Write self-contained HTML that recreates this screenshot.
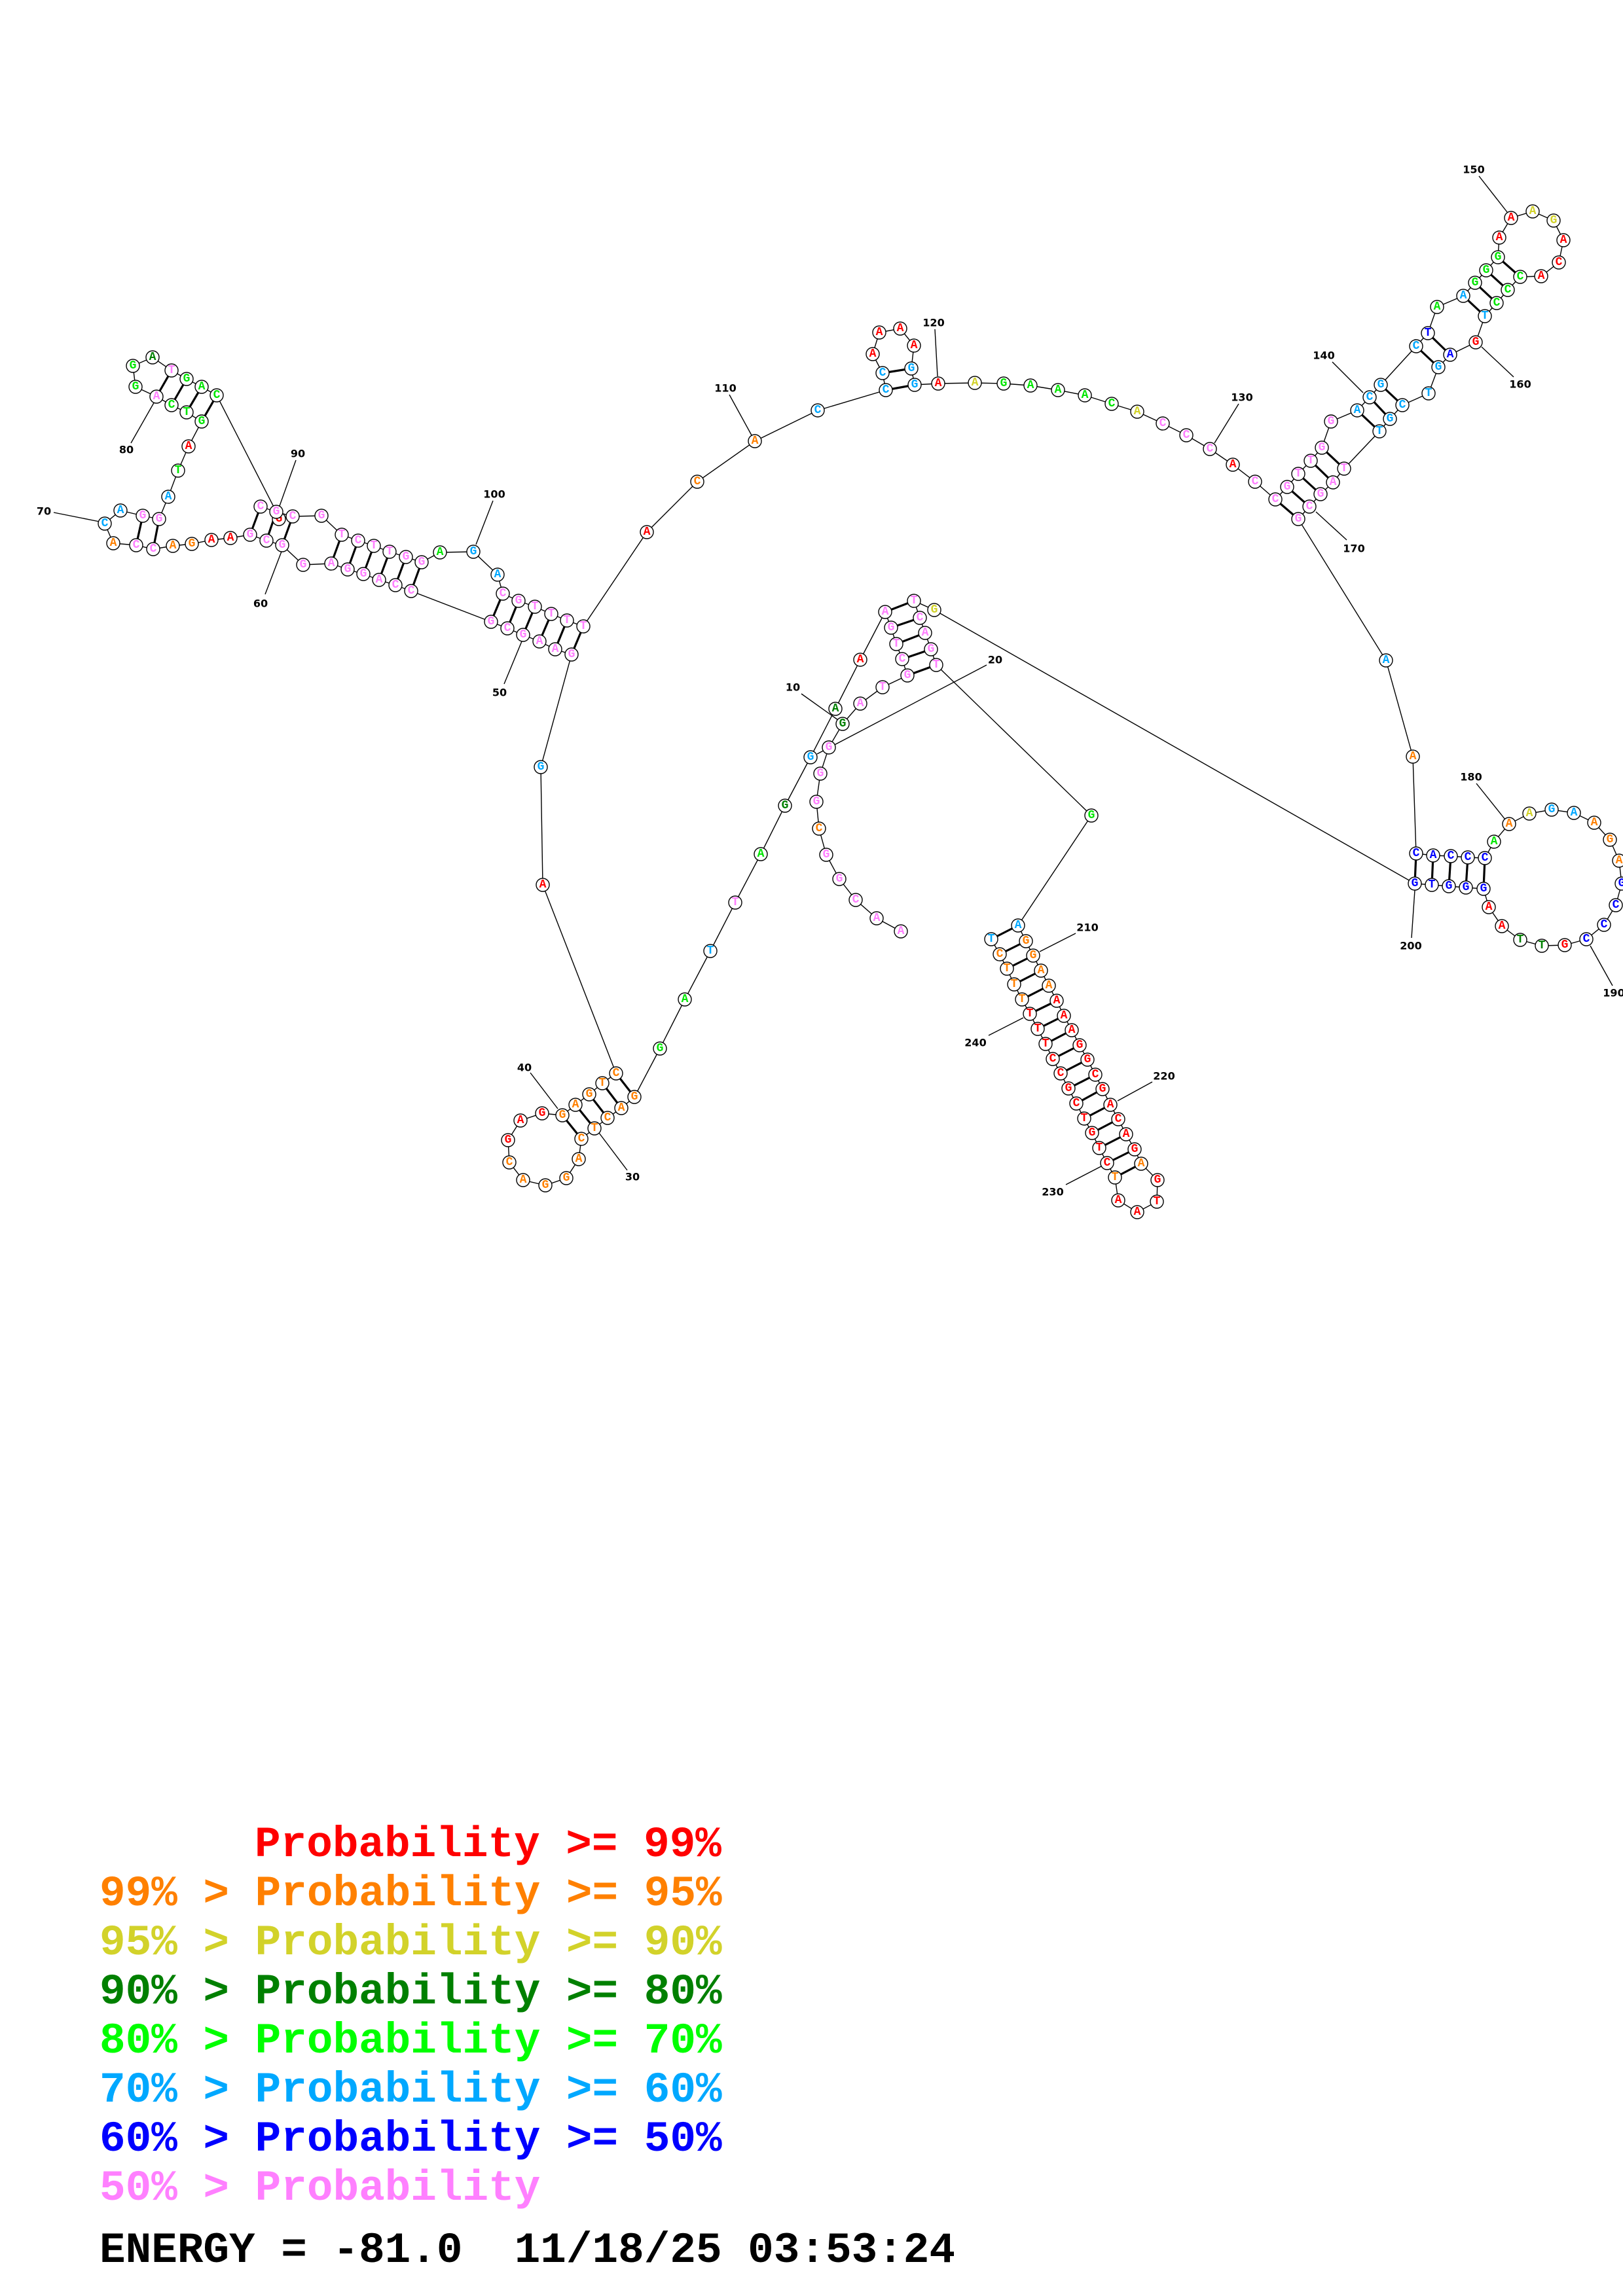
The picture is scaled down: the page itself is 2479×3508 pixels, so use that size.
<!DOCTYPE html>
<html><head><meta charset="utf-8"><style>
html,body{margin:0;padding:0;background:#fff}
svg{display:block}
.bb{fill:none;stroke:#000;stroke-width:1.4}
.pr{stroke:#000;stroke-width:3.2}
.ln{stroke:#000;stroke-width:1.4}
circle{fill:#fff;stroke:#000;stroke-width:1.4}
.n text{font-family:"Liberation Mono",monospace;font-weight:bold;font-size:18px;text-anchor:middle;dominant-baseline:central}
.lb{font-family:"DejaVu Sans","Liberation Sans",sans-serif;font-weight:bold;font-size:16px;text-anchor:middle;dominant-baseline:central;fill:#000}
.r{fill:#ff0000}.o{fill:#ff8000}.y{fill:#d2d22a}.d{fill:#008000}.g{fill:#00e600}.c{fill:#00a8ff}.b{fill:#0000ff}.p{fill:#ff80ff}
.lg{font-family:"Liberation Mono",monospace;font-weight:bold;font-size:66px}
</style></head><body>
<svg width="2479" height="3508" viewBox="0 0 2479 3508" xmlns="http://www.w3.org/2000/svg">
<polyline class="bb" points="1376,1423 1339,1403 1307,1375 1282,1343 1262,1306 1251,1266 1247,1225 1253,1182 1266,1142 1287,1106 1314,1075 1348,1050 1386,1032 1378,1007 1369,984 1361,959 1352,935 1314,1008 1276,1083 1238,1157 1199,1231 1162,1305 1123,1379 1085,1453 1046,1527 1008,1602 969,1676 949,1693 928,1708 908,1724 888,1740 884,1771 865,1800 833,1811 799,1803 778,1776 776,1742 795,1712 828,1701 859,1704 879,1688 900,1672 920,1655 941,1640 829,1352 826,1172 873,1000 848,992 824,980 799,970 775,960 750,950 628,903 604,894 579,886 555,877 531,870 506,861 463,863 431,833 407,826 382,817 352,822 323,825 293,831 264,834 234,839 208,833 173,830 160,800 184,780 218,788 243,793 257,759 272,719 288,682 308,644 285,630 262,619 239,606 207,591 203,559 233,546 262,566 285,579 308,591 331,604 422,782 447,789 491,788 522,817 547,826 571,834 595,843 620,851 644,859 672,844 723,843 760,878 768,907 792,918 817,927 842,938 866,948 891,957 988,813 1065,736 1153,674 1249,627 1353,596 1348,570 1333,541 1343,508 1375,502 1396,528 1392,563 1397,588 1433,586 1489,585 1533,586 1574,589 1616,596 1657,604 1698,617 1737,629 1776,647 1812,665 1848,686 1883,710 1917,736 1948,763 1966,744 1983,724 2002,704 2019,684 2033,644 2073,627 2092,607 2109,588 2163,529 2181,509 2195,469 2235,452 2253,432 2270,413 2288,393 2290,363 2308,333 2341,323 2373,337 2388,367 2381,401 2354,422 2322,423 2303,443 2286,463 2268,483 2254,523 2215,542 2197,561 2182,601 2142,619 2123,640 2107,659 2053,716 2036,737 2017,755 2000,774 1983,793 2117,1009 2158,1156 2163,1304 2189,1307 2216,1308 2242,1310 2268,1311 2282,1286 2305,1259 2336,1243 2370,1237 2404,1242 2435,1257 2459,1283 2473,1315 2477,1350 2468,1383 2450,1413 2423,1435 2390,1444 2355,1445 2322,1436 2294,1415 2274,1386 2266,1358 2239,1356 2213,1354 2187,1352 2161,1350 1427,932 1396,918 1405,944 1413,967 1422,992 1430,1016 1667,1246 1555,1414 1567,1438 1578,1460 1590,1483 1602,1506 1614,1529 1625,1552 1637,1574 1649,1597 1661,1619 1673,1642 1684,1664 1696,1688 1708,1710 1720,1733 1733,1756 1743,1778 1768,1803 1767,1836 1737,1852 1708,1834 1703,1799 1691,1777 1679,1754 1668,1731 1656,1709 1644,1686 1632,1663 1620,1640 1608,1618 1597,1595 1585,1572 1573,1549 1561,1527 1549,1504 1538,1480 1527,1458 1514,1435"/>
<polyline class="bb" points="398,774 422,782 426,793 447,789"/>
<g class="ln">
<line x1="1224" y1="1060" x2="1280" y2="1100"/><line x1="1248" y1="1152" x2="1507" y2="1016"/>
<line x1="958" y1="1788" x2="915" y2="1731"/><line x1="810" y1="1639" x2="852" y2="1694"/>
<line x1="770" y1="1045" x2="799" y2="975"/><line x1="405" y1="908" x2="431" y2="840"/>
<line x1="82" y1="783" x2="152" y2="797"/><line x1="200" y1="677" x2="237" y2="612"/>
<line x1="452" y1="703" x2="427" y2="773"/><line x1="753" y1="765" x2="727" y2="832"/>
<line x1="1114" y1="603" x2="1148" y2="665"/><line x1="1428" y1="503" x2="1432" y2="575"/>
<line x1="1892" y1="617" x2="1855" y2="677"/><line x1="2035" y1="553" x2="2082" y2="600"/>
<line x1="2259" y1="269" x2="2302" y2="324"/><line x1="2312" y1="576" x2="2263" y2="530"/>
<line x1="2057" y1="825" x2="2010" y2="782"/><line x1="2255" y1="1197" x2="2299" y2="1252"/>
<line x1="2463" y1="1506" x2="2429" y2="1445"/><line x1="2156" y1="1433" x2="2161" y2="1360"/>
<line x1="1643" y1="1426" x2="1588" y2="1454"/><line x1="1760" y1="1653" x2="1707" y2="1682"/>
<line x1="1628" y1="1810" x2="1682" y2="1782"/><line x1="1510" y1="1582" x2="1563" y2="1555"/>
</g>
<g class="pr">
<line x1="239" y1="606" x2="262" y2="566"/><line x1="262" y1="619" x2="285" y2="579"/><line x1="285" y1="630" x2="308" y2="591"/><line x1="308" y1="644" x2="331" y2="604"/>
<line x1="218" y1="788" x2="208" y2="833"/><line x1="243" y1="793" x2="234" y2="839"/>
<line x1="398" y1="774" x2="382" y2="817"/><line x1="422" y1="782" x2="407" y2="826"/><line x1="447" y1="789" x2="431" y2="833"/>
<line x1="522" y1="817" x2="506" y2="861"/><line x1="547" y1="826" x2="531" y2="870"/><line x1="571" y1="834" x2="555" y2="877"/><line x1="595" y1="843" x2="579" y2="886"/><line x1="620" y1="851" x2="604" y2="894"/><line x1="644" y1="859" x2="628" y2="903"/>
<line x1="768" y1="907" x2="750" y2="950"/><line x1="792" y1="918" x2="775" y2="960"/><line x1="817" y1="927" x2="799" y2="970"/><line x1="842" y1="938" x2="824" y2="980"/><line x1="866" y1="948" x2="848" y2="992"/><line x1="891" y1="957" x2="873" y2="1000"/>
<line x1="941" y1="1640" x2="969" y2="1676"/><line x1="920" y1="1655" x2="949" y2="1693"/><line x1="900" y1="1672" x2="928" y2="1708"/><line x1="879" y1="1688" x2="908" y2="1724"/><line x1="859" y1="1704" x2="888" y2="1740"/>
<line x1="1348" y1="570" x2="1392" y2="563"/><line x1="1353" y1="596" x2="1397" y2="588"/>
<line x1="1948" y1="763" x2="1983" y2="793"/><line x1="1966" y1="744" x2="2000" y2="774"/><line x1="1983" y1="724" x2="2017" y2="755"/><line x1="2002" y1="704" x2="2036" y2="737"/><line x1="2019" y1="684" x2="2053" y2="716"/>
<line x1="2073" y1="627" x2="2107" y2="659"/><line x1="2092" y1="607" x2="2123" y2="640"/><line x1="2109" y1="588" x2="2142" y2="619"/>
<line x1="2163" y1="529" x2="2197" y2="561"/><line x1="2181" y1="509" x2="2215" y2="542"/>
<line x1="2235" y1="452" x2="2268" y2="483"/><line x1="2253" y1="432" x2="2286" y2="463"/><line x1="2270" y1="413" x2="2303" y2="443"/><line x1="2288" y1="393" x2="2322" y2="423"/>
<line x1="2163" y1="1304" x2="2161" y2="1350"/><line x1="2189" y1="1307" x2="2187" y2="1352"/><line x1="2216" y1="1308" x2="2213" y2="1354"/><line x1="2242" y1="1310" x2="2239" y2="1356"/><line x1="2268" y1="1311" x2="2266" y2="1358"/>
<line x1="1352" y1="935" x2="1396" y2="918"/><line x1="1361" y1="959" x2="1405" y2="944"/><line x1="1369" y1="984" x2="1413" y2="967"/><line x1="1378" y1="1007" x2="1422" y2="992"/><line x1="1386" y1="1032" x2="1430" y2="1016"/>
<line x1="1555" y1="1414" x2="1514" y2="1435"/><line x1="1567" y1="1438" x2="1527" y2="1458"/><line x1="1578" y1="1460" x2="1538" y2="1480"/><line x1="1590" y1="1483" x2="1549" y2="1504"/><line x1="1602" y1="1506" x2="1561" y2="1527"/><line x1="1614" y1="1529" x2="1573" y2="1549"/><line x1="1625" y1="1552" x2="1585" y2="1572"/><line x1="1637" y1="1574" x2="1597" y2="1595"/><line x1="1649" y1="1597" x2="1608" y2="1618"/><line x1="1661" y1="1619" x2="1620" y2="1640"/><line x1="1673" y1="1642" x2="1632" y2="1663"/><line x1="1684" y1="1664" x2="1644" y2="1686"/><line x1="1696" y1="1688" x2="1656" y2="1709"/><line x1="1708" y1="1710" x2="1668" y2="1731"/><line x1="1720" y1="1733" x2="1679" y2="1754"/><line x1="1733" y1="1756" x2="1691" y2="1777"/><line x1="1743" y1="1778" x2="1703" y2="1799"/>
</g>
<g class="n">
<circle cx="1376" cy="1423" r="10"/><text x="1376" y="1423" class="p">A</text>
<circle cx="1339" cy="1403" r="10"/><text x="1339" y="1403" class="p">A</text>
<circle cx="1307" cy="1375" r="10"/><text x="1307" y="1375" class="p">C</text>
<circle cx="1282" cy="1343" r="10"/><text x="1282" y="1343" class="p">G</text>
<circle cx="1262" cy="1306" r="10"/><text x="1262" y="1306" class="p">G</text>
<circle cx="1251" cy="1266" r="10"/><text x="1251" y="1266" class="o">C</text>
<circle cx="1247" cy="1225" r="10"/><text x="1247" y="1225" class="p">G</text>
<circle cx="1253" cy="1182" r="10"/><text x="1253" y="1182" class="p">G</text>
<circle cx="1266" cy="1142" r="10"/><text x="1266" y="1142" class="p">G</text>
<circle cx="1287" cy="1106" r="10"/><text x="1287" y="1106" class="d">G</text>
<circle cx="1314" cy="1075" r="10"/><text x="1314" y="1075" class="p">A</text>
<circle cx="1348" cy="1050" r="10"/><text x="1348" y="1050" class="p">T</text>
<circle cx="1386" cy="1032" r="10"/><text x="1386" y="1032" class="p">G</text>
<circle cx="1378" cy="1007" r="10"/><text x="1378" y="1007" class="p">C</text>
<circle cx="1369" cy="984" r="10"/><text x="1369" y="984" class="p">T</text>
<circle cx="1361" cy="959" r="10"/><text x="1361" y="959" class="p">G</text>
<circle cx="1352" cy="935" r="10"/><text x="1352" y="935" class="p">A</text>
<circle cx="1314" cy="1008" r="10"/><text x="1314" y="1008" class="r">A</text>
<circle cx="1276" cy="1083" r="10"/><text x="1276" y="1083" class="d">A</text>
<circle cx="1238" cy="1157" r="10"/><text x="1238" y="1157" class="c">G</text>
<circle cx="1199" cy="1231" r="10"/><text x="1199" y="1231" class="d">G</text>
<circle cx="1162" cy="1305" r="10"/><text x="1162" y="1305" class="g">A</text>
<circle cx="1123" cy="1379" r="10"/><text x="1123" y="1379" class="p">T</text>
<circle cx="1085" cy="1453" r="10"/><text x="1085" y="1453" class="c">T</text>
<circle cx="1046" cy="1527" r="10"/><text x="1046" y="1527" class="g">A</text>
<circle cx="1008" cy="1602" r="10"/><text x="1008" y="1602" class="g">G</text>
<circle cx="969" cy="1676" r="10"/><text x="969" y="1676" class="o">G</text>
<circle cx="949" cy="1693" r="10"/><text x="949" y="1693" class="o">A</text>
<circle cx="928" cy="1708" r="10"/><text x="928" y="1708" class="o">C</text>
<circle cx="908" cy="1724" r="10"/><text x="908" y="1724" class="o">T</text>
<circle cx="888" cy="1740" r="10"/><text x="888" y="1740" class="o">C</text>
<circle cx="884" cy="1771" r="10"/><text x="884" y="1771" class="o">A</text>
<circle cx="865" cy="1800" r="10"/><text x="865" y="1800" class="o">G</text>
<circle cx="833" cy="1811" r="10"/><text x="833" y="1811" class="o">G</text>
<circle cx="799" cy="1803" r="10"/><text x="799" y="1803" class="o">A</text>
<circle cx="778" cy="1776" r="10"/><text x="778" y="1776" class="o">C</text>
<circle cx="776" cy="1742" r="10"/><text x="776" y="1742" class="r">G</text>
<circle cx="795" cy="1712" r="10"/><text x="795" y="1712" class="r">A</text>
<circle cx="828" cy="1701" r="10"/><text x="828" y="1701" class="r">G</text>
<circle cx="859" cy="1704" r="10"/><text x="859" y="1704" class="o">G</text>
<circle cx="879" cy="1688" r="10"/><text x="879" y="1688" class="o">A</text>
<circle cx="900" cy="1672" r="10"/><text x="900" y="1672" class="o">G</text>
<circle cx="920" cy="1655" r="10"/><text x="920" y="1655" class="o">T</text>
<circle cx="941" cy="1640" r="10"/><text x="941" y="1640" class="o">C</text>
<circle cx="829" cy="1352" r="10"/><text x="829" y="1352" class="r">A</text>
<circle cx="826" cy="1172" r="10"/><text x="826" y="1172" class="c">G</text>
<circle cx="873" cy="1000" r="10"/><text x="873" y="1000" class="p">G</text>
<circle cx="848" cy="992" r="10"/><text x="848" y="992" class="p">A</text>
<circle cx="824" cy="980" r="10"/><text x="824" y="980" class="p">A</text>
<circle cx="799" cy="970" r="10"/><text x="799" y="970" class="p">G</text>
<circle cx="775" cy="960" r="10"/><text x="775" y="960" class="p">C</text>
<circle cx="750" cy="950" r="10"/><text x="750" y="950" class="p">G</text>
<circle cx="628" cy="903" r="10"/><text x="628" y="903" class="p">C</text>
<circle cx="604" cy="894" r="10"/><text x="604" y="894" class="p">C</text>
<circle cx="579" cy="886" r="10"/><text x="579" y="886" class="p">A</text>
<circle cx="555" cy="877" r="10"/><text x="555" y="877" class="p">G</text>
<circle cx="531" cy="870" r="10"/><text x="531" y="870" class="p">G</text>
<circle cx="506" cy="861" r="10"/><text x="506" y="861" class="p">A</text>
<circle cx="463" cy="863" r="10"/><text x="463" y="863" class="p">G</text>
<circle cx="431" cy="833" r="10"/><text x="431" y="833" class="p">G</text>
<circle cx="407" cy="826" r="10"/><text x="407" y="826" class="p">C</text>
<circle cx="382" cy="817" r="10"/><text x="382" y="817" class="p">G</text>
<circle cx="352" cy="822" r="10"/><text x="352" y="822" class="r">A</text>
<circle cx="323" cy="825" r="10"/><text x="323" y="825" class="r">A</text>
<circle cx="293" cy="831" r="10"/><text x="293" y="831" class="o">G</text>
<circle cx="264" cy="834" r="10"/><text x="264" y="834" class="o">A</text>
<circle cx="234" cy="839" r="10"/><text x="234" y="839" class="p">C</text>
<circle cx="208" cy="833" r="10"/><text x="208" y="833" class="p">C</text>
<circle cx="173" cy="830" r="10"/><text x="173" y="830" class="o">A</text>
<circle cx="160" cy="800" r="10"/><text x="160" y="800" class="c">C</text>
<circle cx="184" cy="780" r="10"/><text x="184" y="780" class="c">A</text>
<circle cx="218" cy="788" r="10"/><text x="218" y="788" class="p">G</text>
<circle cx="243" cy="793" r="10"/><text x="243" y="793" class="p">G</text>
<circle cx="257" cy="759" r="10"/><text x="257" y="759" class="c">A</text>
<circle cx="272" cy="719" r="10"/><text x="272" y="719" class="g">T</text>
<circle cx="288" cy="682" r="10"/><text x="288" y="682" class="r">A</text>
<circle cx="308" cy="644" r="10"/><text x="308" y="644" class="g">G</text>
<circle cx="285" cy="630" r="10"/><text x="285" y="630" class="g">T</text>
<circle cx="262" cy="619" r="10"/><text x="262" y="619" class="g">C</text>
<circle cx="239" cy="606" r="10"/><text x="239" y="606" class="p">A</text>
<circle cx="207" cy="591" r="10"/><text x="207" y="591" class="g">G</text>
<circle cx="203" cy="559" r="10"/><text x="203" y="559" class="g">G</text>
<circle cx="233" cy="546" r="10"/><text x="233" y="546" class="d">A</text>
<circle cx="262" cy="566" r="10"/><text x="262" y="566" class="p">T</text>
<circle cx="285" cy="579" r="10"/><text x="285" y="579" class="g">G</text>
<circle cx="308" cy="591" r="10"/><text x="308" y="591" class="g">A</text>
<circle cx="331" cy="604" r="10"/><text x="331" y="604" class="g">C</text>
<circle cx="398" cy="774" r="10"/><text x="398" y="774" class="p">C</text>
<circle cx="426" cy="793" r="10"/><text x="426" y="793" class="r">G</text>
<circle cx="422" cy="782" r="10"/><text x="422" y="782" class="p">G</text>
<circle cx="447" cy="789" r="10"/><text x="447" y="789" class="p">C</text>
<circle cx="491" cy="788" r="10"/><text x="491" y="788" class="p">G</text>
<circle cx="522" cy="817" r="10"/><text x="522" y="817" class="p">T</text>
<circle cx="547" cy="826" r="10"/><text x="547" y="826" class="p">C</text>
<circle cx="571" cy="834" r="10"/><text x="571" y="834" class="p">T</text>
<circle cx="595" cy="843" r="10"/><text x="595" y="843" class="p">T</text>
<circle cx="620" cy="851" r="10"/><text x="620" y="851" class="p">G</text>
<circle cx="644" cy="859" r="10"/><text x="644" y="859" class="p">G</text>
<circle cx="672" cy="844" r="10"/><text x="672" y="844" class="g">A</text>
<circle cx="723" cy="843" r="10"/><text x="723" y="843" class="c">G</text>
<circle cx="760" cy="878" r="10"/><text x="760" y="878" class="c">A</text>
<circle cx="768" cy="907" r="10"/><text x="768" y="907" class="p">C</text>
<circle cx="792" cy="918" r="10"/><text x="792" y="918" class="p">G</text>
<circle cx="817" cy="927" r="10"/><text x="817" y="927" class="p">T</text>
<circle cx="842" cy="938" r="10"/><text x="842" y="938" class="p">T</text>
<circle cx="866" cy="948" r="10"/><text x="866" y="948" class="p">T</text>
<circle cx="891" cy="957" r="10"/><text x="891" y="957" class="p">T</text>
<circle cx="988" cy="813" r="10"/><text x="988" y="813" class="r">A</text>
<circle cx="1065" cy="736" r="10"/><text x="1065" y="736" class="o">C</text>
<circle cx="1153" cy="674" r="10"/><text x="1153" y="674" class="o">A</text>
<circle cx="1249" cy="627" r="10"/><text x="1249" y="627" class="c">C</text>
<circle cx="1353" cy="596" r="10"/><text x="1353" y="596" class="c">C</text>
<circle cx="1348" cy="570" r="10"/><text x="1348" y="570" class="c">C</text>
<circle cx="1333" cy="541" r="10"/><text x="1333" y="541" class="r">A</text>
<circle cx="1343" cy="508" r="10"/><text x="1343" y="508" class="r">A</text>
<circle cx="1375" cy="502" r="10"/><text x="1375" y="502" class="r">A</text>
<circle cx="1396" cy="528" r="10"/><text x="1396" y="528" class="r">A</text>
<circle cx="1392" cy="563" r="10"/><text x="1392" y="563" class="c">G</text>
<circle cx="1397" cy="588" r="10"/><text x="1397" y="588" class="c">G</text>
<circle cx="1433" cy="586" r="10"/><text x="1433" y="586" class="r">A</text>
<circle cx="1489" cy="585" r="10"/><text x="1489" y="585" class="y">A</text>
<circle cx="1533" cy="586" r="10"/><text x="1533" y="586" class="g">G</text>
<circle cx="1574" cy="589" r="10"/><text x="1574" y="589" class="g">A</text>
<circle cx="1616" cy="596" r="10"/><text x="1616" y="596" class="g">A</text>
<circle cx="1657" cy="604" r="10"/><text x="1657" y="604" class="g">A</text>
<circle cx="1698" cy="617" r="10"/><text x="1698" y="617" class="g">C</text>
<circle cx="1737" cy="629" r="10"/><text x="1737" y="629" class="y">A</text>
<circle cx="1776" cy="647" r="10"/><text x="1776" y="647" class="p">C</text>
<circle cx="1812" cy="665" r="10"/><text x="1812" y="665" class="p">C</text>
<circle cx="1848" cy="686" r="10"/><text x="1848" y="686" class="p">C</text>
<circle cx="1883" cy="710" r="10"/><text x="1883" y="710" class="r">A</text>
<circle cx="1917" cy="736" r="10"/><text x="1917" y="736" class="p">C</text>
<circle cx="1948" cy="763" r="10"/><text x="1948" y="763" class="p">C</text>
<circle cx="1966" cy="744" r="10"/><text x="1966" y="744" class="p">G</text>
<circle cx="1983" cy="724" r="10"/><text x="1983" y="724" class="p">T</text>
<circle cx="2002" cy="704" r="10"/><text x="2002" y="704" class="p">T</text>
<circle cx="2019" cy="684" r="10"/><text x="2019" y="684" class="p">G</text>
<circle cx="2033" cy="644" r="10"/><text x="2033" y="644" class="p">G</text>
<circle cx="2073" cy="627" r="10"/><text x="2073" y="627" class="c">A</text>
<circle cx="2092" cy="607" r="10"/><text x="2092" y="607" class="c">C</text>
<circle cx="2109" cy="588" r="10"/><text x="2109" y="588" class="c">G</text>
<circle cx="2163" cy="529" r="10"/><text x="2163" y="529" class="c">C</text>
<circle cx="2181" cy="509" r="10"/><text x="2181" y="509" class="b">T</text>
<circle cx="2195" cy="469" r="10"/><text x="2195" y="469" class="g">A</text>
<circle cx="2235" cy="452" r="10"/><text x="2235" y="452" class="c">A</text>
<circle cx="2253" cy="432" r="10"/><text x="2253" y="432" class="g">G</text>
<circle cx="2270" cy="413" r="10"/><text x="2270" y="413" class="g">G</text>
<circle cx="2288" cy="393" r="10"/><text x="2288" y="393" class="g">G</text>
<circle cx="2290" cy="363" r="10"/><text x="2290" y="363" class="r">A</text>
<circle cx="2308" cy="333" r="10"/><text x="2308" y="333" class="r">A</text>
<circle cx="2341" cy="323" r="10"/><text x="2341" y="323" class="y">A</text>
<circle cx="2373" cy="337" r="10"/><text x="2373" y="337" class="y">G</text>
<circle cx="2388" cy="367" r="10"/><text x="2388" y="367" class="r">A</text>
<circle cx="2381" cy="401" r="10"/><text x="2381" y="401" class="r">C</text>
<circle cx="2354" cy="422" r="10"/><text x="2354" y="422" class="r">A</text>
<circle cx="2322" cy="423" r="10"/><text x="2322" y="423" class="g">C</text>
<circle cx="2303" cy="443" r="10"/><text x="2303" y="443" class="g">C</text>
<circle cx="2286" cy="463" r="10"/><text x="2286" y="463" class="g">C</text>
<circle cx="2268" cy="483" r="10"/><text x="2268" y="483" class="c">T</text>
<circle cx="2254" cy="523" r="10"/><text x="2254" y="523" class="r">G</text>
<circle cx="2215" cy="542" r="10"/><text x="2215" y="542" class="b">A</text>
<circle cx="2197" cy="561" r="10"/><text x="2197" y="561" class="c">G</text>
<circle cx="2182" cy="601" r="10"/><text x="2182" y="601" class="c">T</text>
<circle cx="2142" cy="619" r="10"/><text x="2142" y="619" class="c">C</text>
<circle cx="2123" cy="640" r="10"/><text x="2123" y="640" class="c">G</text>
<circle cx="2107" cy="659" r="10"/><text x="2107" y="659" class="c">T</text>
<circle cx="2053" cy="716" r="10"/><text x="2053" y="716" class="p">T</text>
<circle cx="2036" cy="737" r="10"/><text x="2036" y="737" class="p">A</text>
<circle cx="2017" cy="755" r="10"/><text x="2017" y="755" class="p">G</text>
<circle cx="2000" cy="774" r="10"/><text x="2000" y="774" class="p">C</text>
<circle cx="1983" cy="793" r="10"/><text x="1983" y="793" class="p">G</text>
<circle cx="2117" cy="1009" r="10"/><text x="2117" y="1009" class="c">A</text>
<circle cx="2158" cy="1156" r="10"/><text x="2158" y="1156" class="o">A</text>
<circle cx="2163" cy="1304" r="10"/><text x="2163" y="1304" class="b">C</text>
<circle cx="2189" cy="1307" r="10"/><text x="2189" y="1307" class="b">A</text>
<circle cx="2216" cy="1308" r="10"/><text x="2216" y="1308" class="b">C</text>
<circle cx="2242" cy="1310" r="10"/><text x="2242" y="1310" class="b">C</text>
<circle cx="2268" cy="1311" r="10"/><text x="2268" y="1311" class="b">C</text>
<circle cx="2282" cy="1286" r="10"/><text x="2282" y="1286" class="g">A</text>
<circle cx="2305" cy="1259" r="10"/><text x="2305" y="1259" class="o">A</text>
<circle cx="2336" cy="1243" r="10"/><text x="2336" y="1243" class="y">A</text>
<circle cx="2370" cy="1237" r="10"/><text x="2370" y="1237" class="c">G</text>
<circle cx="2404" cy="1242" r="10"/><text x="2404" y="1242" class="c">A</text>
<circle cx="2435" cy="1257" r="10"/><text x="2435" y="1257" class="o">A</text>
<circle cx="2459" cy="1283" r="10"/><text x="2459" y="1283" class="o">G</text>
<circle cx="2473" cy="1315" r="10"/><text x="2473" y="1315" class="o">A</text>
<circle cx="2477" cy="1350" r="10"/><text x="2477" y="1350" class="b">G</text>
<circle cx="2468" cy="1383" r="10"/><text x="2468" y="1383" class="b">C</text>
<circle cx="2450" cy="1413" r="10"/><text x="2450" y="1413" class="b">C</text>
<circle cx="2423" cy="1435" r="10"/><text x="2423" y="1435" class="b">C</text>
<circle cx="2390" cy="1444" r="10"/><text x="2390" y="1444" class="r">G</text>
<circle cx="2355" cy="1445" r="10"/><text x="2355" y="1445" class="d">T</text>
<circle cx="2322" cy="1436" r="10"/><text x="2322" y="1436" class="d">T</text>
<circle cx="2294" cy="1415" r="10"/><text x="2294" y="1415" class="r">A</text>
<circle cx="2274" cy="1386" r="10"/><text x="2274" y="1386" class="r">A</text>
<circle cx="2266" cy="1358" r="10"/><text x="2266" y="1358" class="b">G</text>
<circle cx="2239" cy="1356" r="10"/><text x="2239" y="1356" class="b">G</text>
<circle cx="2213" cy="1354" r="10"/><text x="2213" y="1354" class="b">G</text>
<circle cx="2187" cy="1352" r="10"/><text x="2187" y="1352" class="b">T</text>
<circle cx="2161" cy="1350" r="10"/><text x="2161" y="1350" class="b">G</text>
<circle cx="1427" cy="932" r="10"/><text x="1427" y="932" class="y">G</text>
<circle cx="1396" cy="918" r="10"/><text x="1396" y="918" class="p">T</text>
<circle cx="1405" cy="944" r="10"/><text x="1405" y="944" class="p">C</text>
<circle cx="1413" cy="967" r="10"/><text x="1413" y="967" class="p">A</text>
<circle cx="1422" cy="992" r="10"/><text x="1422" y="992" class="p">G</text>
<circle cx="1430" cy="1016" r="10"/><text x="1430" y="1016" class="p">T</text>
<circle cx="1667" cy="1246" r="10"/><text x="1667" y="1246" class="g">G</text>
<circle cx="1555" cy="1414" r="10"/><text x="1555" y="1414" class="c">A</text>
<circle cx="1567" cy="1438" r="10"/><text x="1567" y="1438" class="o">G</text>
<circle cx="1578" cy="1460" r="10"/><text x="1578" y="1460" class="o">G</text>
<circle cx="1590" cy="1483" r="10"/><text x="1590" y="1483" class="o">A</text>
<circle cx="1602" cy="1506" r="10"/><text x="1602" y="1506" class="o">A</text>
<circle cx="1614" cy="1529" r="10"/><text x="1614" y="1529" class="r">A</text>
<circle cx="1625" cy="1552" r="10"/><text x="1625" y="1552" class="r">A</text>
<circle cx="1637" cy="1574" r="10"/><text x="1637" y="1574" class="r">A</text>
<circle cx="1649" cy="1597" r="10"/><text x="1649" y="1597" class="r">G</text>
<circle cx="1661" cy="1619" r="10"/><text x="1661" y="1619" class="r">G</text>
<circle cx="1673" cy="1642" r="10"/><text x="1673" y="1642" class="r">C</text>
<circle cx="1684" cy="1664" r="10"/><text x="1684" y="1664" class="r">G</text>
<circle cx="1696" cy="1688" r="10"/><text x="1696" y="1688" class="r">A</text>
<circle cx="1708" cy="1710" r="10"/><text x="1708" y="1710" class="r">C</text>
<circle cx="1720" cy="1733" r="10"/><text x="1720" y="1733" class="r">A</text>
<circle cx="1733" cy="1756" r="10"/><text x="1733" y="1756" class="r">G</text>
<circle cx="1743" cy="1778" r="10"/><text x="1743" y="1778" class="o">A</text>
<circle cx="1768" cy="1803" r="10"/><text x="1768" y="1803" class="r">G</text>
<circle cx="1767" cy="1836" r="10"/><text x="1767" y="1836" class="r">T</text>
<circle cx="1737" cy="1852" r="10"/><text x="1737" y="1852" class="r">A</text>
<circle cx="1708" cy="1834" r="10"/><text x="1708" y="1834" class="r">A</text>
<circle cx="1703" cy="1799" r="10"/><text x="1703" y="1799" class="o">T</text>
<circle cx="1691" cy="1777" r="10"/><text x="1691" y="1777" class="r">C</text>
<circle cx="1679" cy="1754" r="10"/><text x="1679" y="1754" class="r">T</text>
<circle cx="1668" cy="1731" r="10"/><text x="1668" y="1731" class="r">G</text>
<circle cx="1656" cy="1709" r="10"/><text x="1656" y="1709" class="r">T</text>
<circle cx="1644" cy="1686" r="10"/><text x="1644" y="1686" class="r">C</text>
<circle cx="1632" cy="1663" r="10"/><text x="1632" y="1663" class="r">G</text>
<circle cx="1620" cy="1640" r="10"/><text x="1620" y="1640" class="r">C</text>
<circle cx="1608" cy="1618" r="10"/><text x="1608" y="1618" class="r">C</text>
<circle cx="1597" cy="1595" r="10"/><text x="1597" y="1595" class="r">T</text>
<circle cx="1585" cy="1572" r="10"/><text x="1585" y="1572" class="r">T</text>
<circle cx="1573" cy="1549" r="10"/><text x="1573" y="1549" class="r">T</text>
<circle cx="1561" cy="1527" r="10"/><text x="1561" y="1527" class="o">T</text>
<circle cx="1549" cy="1504" r="10"/><text x="1549" y="1504" class="o">T</text>
<circle cx="1538" cy="1480" r="10"/><text x="1538" y="1480" class="o">T</text>
<circle cx="1527" cy="1458" r="10"/><text x="1527" y="1458" class="o">C</text>
<circle cx="1514" cy="1435" r="10"/><text x="1514" y="1435" class="c">T</text>
</g>
<g>
<text class="lb" x="1211" y="1050">10</text><text class="lb" x="1520" y="1008">20</text>
<text class="lb" x="966" y="1798">30</text><text class="lb" x="801" y="1631">40</text>
<text class="lb" x="763" y="1058">50</text><text class="lb" x="398" y="922">60</text>
<text class="lb" x="67" y="781">70</text><text class="lb" x="193" y="687">80</text>
<text class="lb" x="455" y="693">90</text><text class="lb" x="755" y="755">100</text>
<text class="lb" x="1108" y="593">110</text><text class="lb" x="1426" y="493">120</text>
<text class="lb" x="1897" y="607">130</text><text class="lb" x="2022" y="543">140</text>
<text class="lb" x="2251" y="259">150</text><text class="lb" x="2322" y="587">160</text>
<text class="lb" x="2068" y="838">170</text><text class="lb" x="2247" y="1187">180</text>
<text class="lb" x="2465" y="1517">190</text><text class="lb" x="2155" y="1445">200</text>
<text class="lb" x="1661" y="1417">210</text><text class="lb" x="1778" y="1644">220</text>
<text class="lb" x="1608" y="1821">230</text><text class="lb" x="1490" y="1593">240</text>
</g>
<g class="lg">
<text x="389" y="2836" fill="#ff0000">Probability &gt;= 99%</text>
<text x="152" y="2911" fill="#ff8000">99% &gt; Probability &gt;= 95%</text>
<text x="152" y="2986" fill="#d2d22a">95% &gt; Probability &gt;= 90%</text>
<text x="152" y="3061" fill="#008000">90% &gt; Probability &gt;= 80%</text>
<text x="152" y="3136" fill="#00ff00">80% &gt; Probability &gt;= 70%</text>
<text x="152" y="3211" fill="#00a8ff">70% &gt; Probability &gt;= 60%</text>
<text x="152" y="3286" fill="#0000ff">60% &gt; Probability &gt;= 50%</text>
<text x="152" y="3361" fill="#ff80ff">50% &gt; Probability</text>
<text x="152" y="3456" fill="#000" xml:space="preserve">ENERGY = -81.0  11/18/25 03:53:24</text>
</g>
</svg>
</body></html>
